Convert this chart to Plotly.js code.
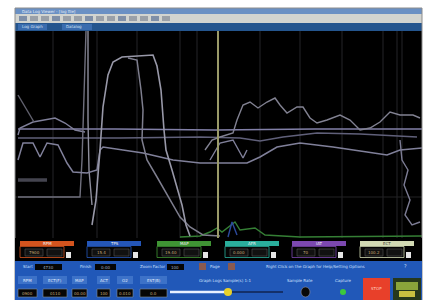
<!DOCTYPE html>
<html>
<head>
<meta charset="utf-8">
<script src="https://cdn.plot.ly/plotly-3.0.1.min.js"></script>
<style>html,body{margin:0;padding:0;background:#fff;}#chart{width:427px;height:300px;}</style>
</head>
<body>
<div id="chart"></div>
<script>
// ---- Data (sample index vs. scaled channel value) ----
const plateauX = [77,81,85,88,93,98,107,138,142,146,149,151,157,163,167,171,175];
const plateauY = [13,38,88,131,163,176,181,183,172,148,108,88,68,48,33,13,2];

const dropX = [113,122,126,128,127,132,142,155,165,175,188,205];
const dropY = [180,178,148,128,98,78,61,38,21,11,3,2];

const longX = [3,8,18,25,32,43,52,58,72,82,85,88,128,158,185,232,245,262,285,318,352,372,385,402,407];
const longY = [78,95,95,81,95,93,75,66,65,68,88,91,85,78,75,75,81,91,95,91,86,83,88,90,90];

const peakX = [195,205,218,228,232];
const peakY = [78,95,98,80,88];

const noisyX = [190,197,205,218,222,228,235,243,252,260,265,272,282,288,295,302,312,325,335,345,355,365,375,385,398,405];
const noisyY = [88,98,101,105,118,133,136,130,136,140,133,125,131,131,120,115,118,123,118,108,110,116,126,123,123,120];

const flatX = [3,100,200,300,407];
const flatY = [109,109,108,109,109];

const trapX = [3,5,18,40,50,60,70];
const trapY = [103,110,116,120,115,108,106];

const lowFlatX = [3,105,185,225,245,268,302,345,402];
const lowFlatY = [100,100,101,100,97,101,105,104,101];

const barX = [3,32];
const barY = [58,58];

const stepX = [3,65,67,69,71];
const stepY = [41,41,78,138,207];

const riseX = [73,73,74,77];
const riseY = [207,118,68,33];

const edgeX = [385,387,393,389,395,390,397,405];
const edgeY = [98,78,68,53,38,23,13,16];

const diagX = [3,13,19];
const diagY = [143,126,116];

const greenX = [165,185,195,202,207,220,225,240,250,285,407];
const greenY = [1,2,6,10,6,16,8,10,3,1,2];

const blueX = [213,217,222];
const blueY = [1,16,3];

const gridX = [38,82,122,165,182,245,285,327,368,382,387];
const cursorX = 203;

const gaugeNames = ["RPM","TPS","MAP","AFR","IAT","ECT"];
const gaugeValues = ["7900","15.4","19.40","0.000","70","100.2"];
const gaugeColors = ["#d4541e","#2456b8","#3f9434","#2aae9c","#7c48b0","#d2dab4"];
const gaugeLeft = [20,87,157,225,292,360];

const chanNames = ["RPM","ECT(F)","MAP","ACT","O2","EST(B)"];
const chanValues = ["0900","0110","00.00","100","0.010","0.0"];
const chanLeft = [18,43,72,97,117,140];
const chanRight = [37,67,87,110,133,167];

// ---- Helpers for window chrome (paper coordinates from pixel positions) ----
const L=15, R=422, T=31, B=238;
const PX = p => (p - L) / (R - L);
const PY = p => (B - p) / (B - T);
const shapes = [];
const ann = [];
function rect(x0,y0,x1,y1,fill,line,lw){
  shapes.push({type:'rect',xref:'paper',yref:'paper',x0:PX(x0),x1:PX(x1),y0:PY(y1),y1:PY(y0),
    fillcolor:fill||'rgba(0,0,0,0)',line:{color:line||'rgba(0,0,0,0)',width:lw===undefined?(line?1:0):lw},layer:'above'});
}
function circ(cx,cy,r,fill){
  shapes.push({type:'circle',xref:'paper',yref:'paper',x0:PX(cx-r),x1:PX(cx+r),y0:PY(cy+r),y1:PY(cy-r),
    fillcolor:fill,line:{width:0},layer:'above'});
}
function hline(x0,x1,y,color,w){
  shapes.push({type:'line',xref:'paper',yref:'paper',x0:PX(x0),x1:PX(x1),y0:PY(y),y1:PY(y),line:{color:color,width:w},layer:'above'});
}
function txt(x,y,t,size,color,anchor){
  ann.push({xref:'paper',yref:'paper',x:PX(x),y:PY(y),text:t,showarrow:false,xanchor:anchor||'left',yanchor:'middle',
    font:{family:'DejaVu Sans',size:size,color:color}});
}

// window frame + title bars
rect(15,8,422,31,'#24558e');
rect(15,8,422,14,'#6a90c4');
rect(15,14,422,23,'#d2d4d0');
rect(15,8,422,300,null,'#8c8c8c',1);
txt(20,11,'Data Log Viewer - [log file]',4,'#e8eef8');
for(let i=0;i<14;i++){ rect(19+i*11,16,27+i*11,21,i%3===0?'#7f8fa8':'#9aa0a8'); }
rect(18,24,47,30,'#3a6cae'); txt(20,27,'Log Graph',4,'#d8e4f4');
rect(62,24,92,30,'#3a6cae'); txt(64,27,'Datalog',4,'#d8e4f4');

// gauge strip (black) and control panel (blue)
rect(15,238,422,261,'#000000');
rect(15,261,422,300,'#2158b8');
gaugeLeft.forEach((x,i)=>{
  const c = gaugeColors[i];
  rect(x,241,x+54,246,c);
  txt(x+27,243.5,gaugeNames[i],4,i===5?'#404030':'#f0f0f0','center');
  rect(x,246.5,x+44,257.5,'#050505',c,0.8);
  rect(x+5,249,x+23,256,'#111111','#555555',0.6);
  rect(x+27,249,x+42,256,'#111111','#555555',0.6);
  txt(x+14,252.5,gaugeValues[i],4,'#c8aa78','center');
  rect(x+46,252,x+51,258,'#e6e6e6');
});

// control row 1
txt(21,266,'Start',4,'#cfe0ff'); rect(35,264,62,270,'#050505'); txt(48,267,'4730',4,'#a0b0c0','center');
txt(78,266,'Finish',4,'#cfe0ff'); rect(95,264,116,270,'#050505'); txt(105,267,'0:00',4,'#a0b0c0','center');
txt(138,266,'Zoom Factor',4,'#cfe0ff'); rect(167,264,184,270,'#050505'); txt(175,267,'100',4,'#a0b0c0','center');
rect(199,263,206,270,'#8a5a50'); txt(208,266,'Page',4,'#cfe0ff'); rect(228,263,235,270,'#8a5a50');
txt(315,266,'Right Click on the Graph for Help/Setting Options',4,'#cfe0ff','center');
txt(405,266,'?',5,'#cfe0ff','center');

// control rows 2-3
chanNames.forEach((n,i)=>{
  rect(chanLeft[i],276,chanRight[i],284,'#3d72c8');
  txt((chanLeft[i]+chanRight[i])/2,280,n,4,'#e0ecff','center');
  rect(chanLeft[i],289,chanRight[i],297,'#060606','#8090a0',0.6);
  txt((chanLeft[i]+chanRight[i])/2,293,chanValues[i],4,'#c8aa78','center');
});
txt(225,280,'Graph Logs Sample(s) 1:1',4,'#cfe0ff','center');
hline(170,228,292,'#e8f0ff',2.5);
hline(228,283,292,'#14306a',2);
circ(228,292,4,'#e8d02a');
txt(300,280,'Sample Rate',4,'#cfe0ff','center');
shapes.push({type:'circle',xref:'paper',yref:'paper',x0:PX(301),x1:PX(310),y0:PY(297),y1:PY(287),fillcolor:'#080808',line:{color:'#9090a0',width:0.6},layer:'above'});
txt(343,280,'Capture',4,'#cfe0ff','center');
circ(343,292,3,'#3cc83c');
rect(363,278,390,300,'#e8402a');
txt(376,288,'STOP',4,'#ffd0c0','center');
rect(393,278,421,300,'#26381c');
rect(396,282,418,290,'#8aa43a');
rect(399,291,415,297,'#c8c040');

// plot grid + cursor (axis-referenced)
gridX.forEach(g=>shapes.push({type:'line',xref:'x',yref:'paper',x0:g,x1:g,y0:0,y1:1,line:{color:'#242428',width:1},layer:'below'}));
shapes.push({type:'line',xref:'paper',yref:'y',x0:0,x1:1,y0:41,y1:41,line:{color:'#222224',width:1},layer:'below'});
shapes.push({type:'line',xref:'x',yref:'paper',x0:cursorX,x1:cursorX,y0:0,y1:1,line:{color:'#9a9a68',width:2},layer:'above'});

function tr(x,y,color,w){ return {x:x,y:y,type:'scatter',mode:'lines',line:{color:color,width:w||1.4},hoverinfo:'skip',showlegend:false}; }
const data = [
  tr(barX,barY,'#44444f',3.5),
  tr(greenX,greenY,'#357f35',1.4),
  tr(blueX,blueY,'#2c4a9c',1.4),
  tr(flatX,flatY,'#8280a8',1.6),
  tr(lowFlatX,lowFlatY,'#60607a',1.4),
  tr(trapX,trapY,'#80809a',1.4),
  tr(stepX,stepY,'#70707e',1.4),
  tr(riseX,riseY,'#8e8e9c',1.4),
  tr(diagX,diagY,'#62626f',1.4),
  tr(longX,longY,'#80809a',1.5),
  tr(peakX,peakY,'#80809a',1.4),
  tr(noisyX,noisyY,'#828292',1.4),
  tr(edgeX,edgeY,'#7c7c94',1.4),
  tr(dropX,dropY,'#7e7e8e',1.5),
  tr(plateauX,plateauY,'#9898a8',1.6)
];

const layout = {
  width:427,height:300,
  margin:{l:15,r:5,t:31,b:62,pad:0},
  paper_bgcolor:'#ffffff',plot_bgcolor:'#000000',
  xaxis:{range:[0,407],showgrid:false,zeroline:false,showticklabels:false,ticks:'',showline:false,fixedrange:true},
  yaxis:{range:[0,207],showgrid:false,zeroline:false,showticklabels:false,ticks:'',showline:false,fixedrange:true},
  shapes:shapes,annotations:ann,showlegend:false
};
Plotly.newPlot('chart',data,layout,{displayModeBar:false,staticPlot:true});
</script>
</body>
</html>
